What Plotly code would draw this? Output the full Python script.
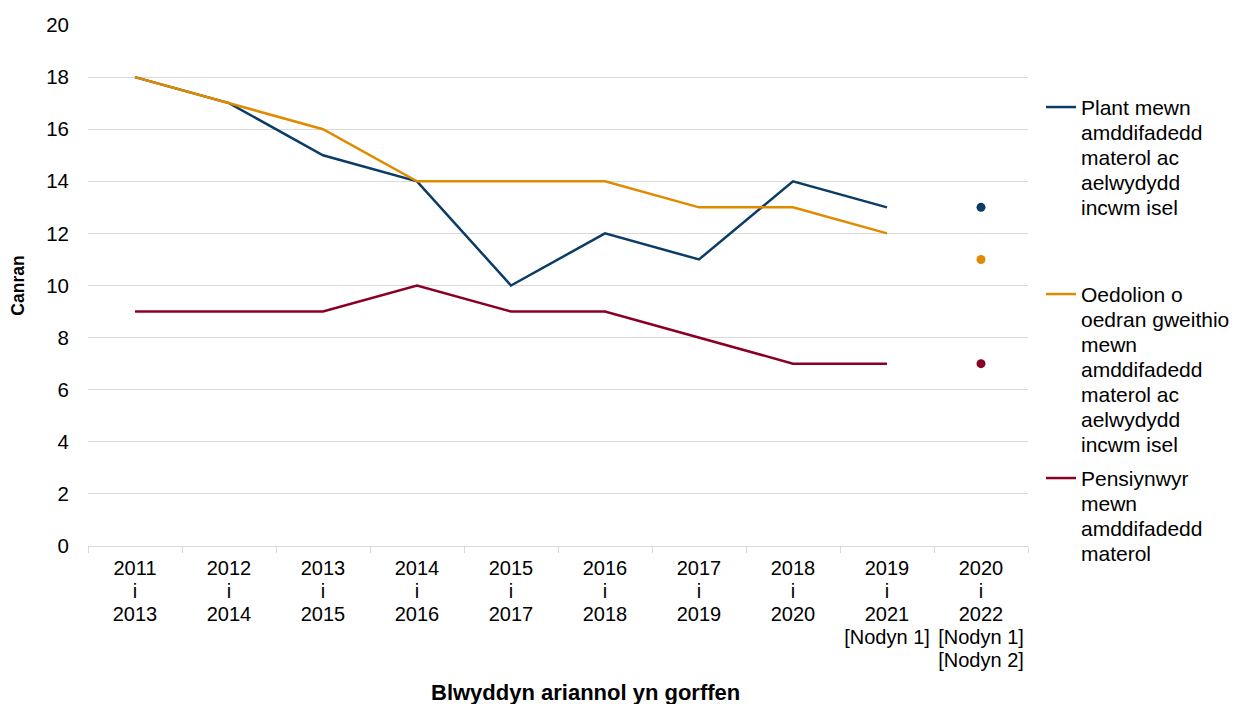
import plotly.graph_objects as go

categories = ["2011<br>i<br>2013", "2012<br>i<br>2014", "2013<br>i<br>2015", "2014<br>i<br>2016",
              "2015<br>i<br>2017", "2016<br>i<br>2018", "2017<br>i<br>2019", "2018<br>i<br>2020",
              "2019<br>i<br>2021<br>[Nodyn 1]", "2020<br>i<br>2022<br>[Nodyn 1]<br>[Nodyn 2]"]
plant = [18, 17, 15, 14, 10, 12, 11, 14, 13, 13]
oedolion = [18, 17, 16, 14, 14, 14, 13, 13, 12, 11]
pensiynwyr = [9, 9, 9, 10, 9, 9, 8, 7, 7, 7]

names = ["Plant mewn<br>amddifadedd<br>materol ac<br>aelwydydd<br>incwm isel",
         "Oedolion o<br>oedran gweithio<br>mewn<br>amddifadedd<br>materol ac<br>aelwydydd<br>incwm isel",
         "Pensiynwyr<br>mewn<br>amddifadedd<br>materol"]
x_title = "Blwyddyn ariannol yn gorffen"
y_title = "Canran"
colors = ["#0B3C68", "#E08A00", "#8A0024"]
series = [plant, oedolion, pensiynwyr]
legends = ["legend", "legend2", "legend3"]
legend_tops = [80, 267, 451]

W, H = 1251, 704
L, R, T, B = 80, 1020, 17, 538


def sized(text, px):
    return "<br>".join(f'<span style="font-size:{px}px">{part}</span>' for part in text.split("<br>"))


FONT = "Liberation Sans, Arial, sans-serif"
fig = go.Figure()
for vals, name, col, lg in zip(series, names, colors, legends):
    fig.add_trace(go.Scatter(x=categories[:9], y=vals[:9], mode="lines",
                             name=sized(name, 21),
                             line=dict(color=col, width=2.5), legend=lg, hoverinfo="x+y"))
    fig.add_trace(go.Scatter(x=categories[9:], y=vals[9:], mode="markers", showlegend=False,
                             marker=dict(color=col, size=9)))

layout_legends = {}
for lg, top in zip(legends, legend_tops):
    layout_legends[lg] = dict(xref="container", yref="container", x=1033/W, y=1 - top/H,
                              xanchor="left", yanchor="top", valign="top",
                              font=dict(size=19.3, color="#000", family=FONT),
                              bgcolor="rgba(0,0,0,0)", itemwidth=30, tracegroupgap=0)

fig.update_layout(
    width=W, height=H,
    margin=dict(l=L, r=W - R, t=T, b=H - B, autoexpand=False),
    paper_bgcolor="white", plot_bgcolor="white",
    font=dict(family=FONT, size=18, color="#000"),
    xaxis=dict(type="category", categoryorder="array", categoryarray=categories,
               tickmode="array", tickvals=categories, ticktext=[sized(c, 20) for c in categories],
               tickangle=0,
               tickson="boundaries", ticks="outside", ticklen=6, tickcolor="#d9d9d9",
               showline=True, linecolor="#d9d9d9", linewidth=1, showgrid=False,
               tickfont=dict(size=17.7), range=[-0.5, 9.5], automargin=False,
               ticklabelstandoff=7),
    yaxis=dict(range=[0, 20], dtick=2, showgrid=True, gridcolor="#d9d9d9", gridwidth=1,
               zeroline=False, showline=False, ticks="", tickfont=dict(size=20.5),
               ticklabelstandoff=18, automargin=False,
               title=dict(text=f"<b>{y_title}</b>", font=dict(size=17.5), standoff=18)),
    showlegend=True,
    annotations=[dict(text=f"<b>{x_title}</b>", xref="paper", yref="paper",
                      x=(577 - L) / (R - L), y=(B - 684) / (B - T),
                      xanchor="center", yanchor="middle", showarrow=False,
                      font=dict(size=22, family=FONT, color="#000"))],
    **layout_legends,
)
fig.write_html("out.html")
